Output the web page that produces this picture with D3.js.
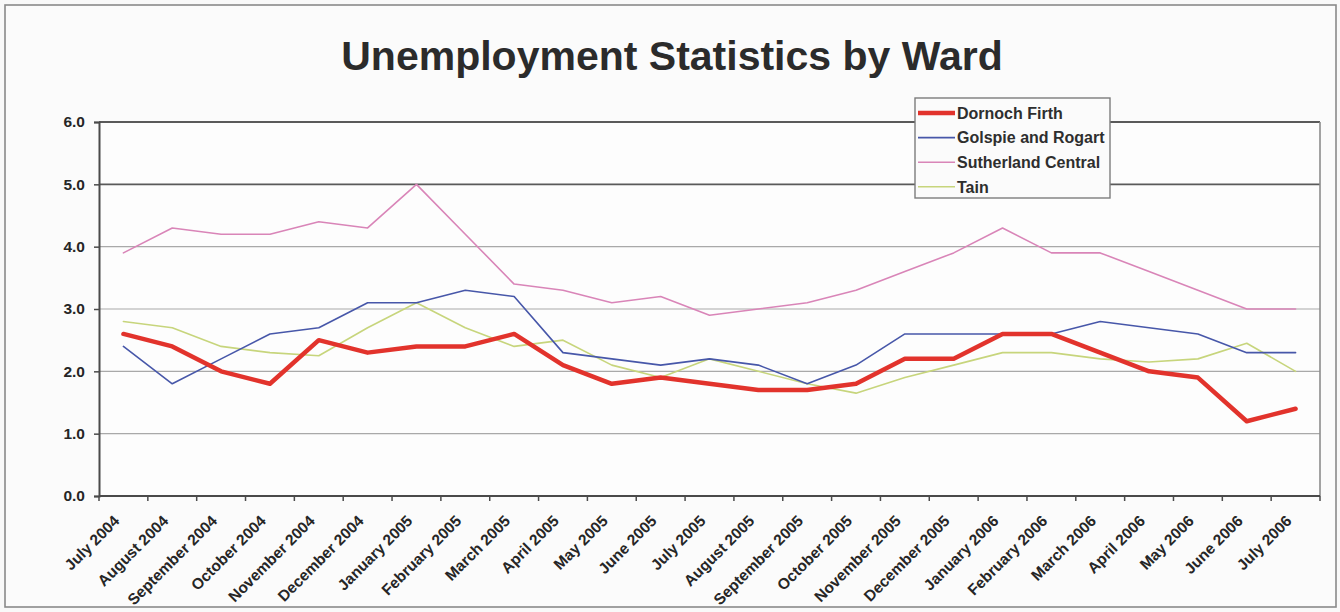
<!DOCTYPE html>
<html>
<head>
<meta charset="utf-8">
<script src="https://cdn.jsdelivr.net/npm/d3@7"></script>
<style>
  html, body { margin: 0; padding: 0; background: #f9f9f9; }
  svg { display: block; }
  text { font-family: "Liberation Sans", Arial, sans-serif; font-weight: bold; fill: #262626; }
</style>
</head>
<body>
<svg id="chart" width="1340" height="612"></svg>
<script>
// Monthly unemployment rate (%) by ward, July 2004 – July 2006
const months = [
  "July 2004", "August 2004", "September 2004", "October 2004", "November 2004",
  "December 2004", "January 2005", "February 2005", "March 2005", "April 2005",
  "May 2005", "June 2005", "July 2005", "August 2005", "September 2005",
  "October 2005", "November 2005", "December 2005", "January 2006", "February 2006",
  "March 2006", "April 2006", "May 2006", "June 2006", "July 2006"
];
const seriesNames = ["Dornoch Firth", "Golspie and Rogart", "Sutherland Central", "Tain"];
const dornochFirth = [2.6, 2.4, 2.0, 1.8, 2.5, 2.3, 2.4, 2.4, 2.6, 2.1, 1.8, 1.9, 1.8, 1.7, 1.7, 1.8, 2.2, 2.2, 2.6, 2.6, 2.3, 2.0, 1.9, 1.2, 1.4];
const golspieRogart = [2.4, 1.8, 2.2, 2.6, 2.7, 3.1, 3.1, 3.3, 3.2, 2.3, 2.2, 2.1, 2.2, 2.1, 1.8, 2.1, 2.6, 2.6, 2.6, 2.6, 2.8, 2.7, 2.6, 2.3, 2.3];
const sutherlandCentral = [3.9, 4.3, 4.2, 4.2, 4.4, 4.3, 5.0, 4.2, 3.4, 3.3, 3.1, 3.2, 2.9, 3.0, 3.1, 3.3, 3.6, 3.9, 4.3, 3.9, 3.9, 3.6, 3.3, 3.0, 3.0];
const tain = [2.8, 2.7, 2.4, 2.3, 2.25, 2.7, 3.1, 2.7, 2.4, 2.5, 2.1, 1.9, 2.2, 2.0, 1.8, 1.65, 1.9, 2.1, 2.3, 2.3, 2.2, 2.15, 2.2, 2.45, 2.0];
const yTicks = [0, 1, 2, 3, 4, 5, 6];

const series = [
  { name: seriesNames[0], values: dornochFirth,      color: "#e2332c", width: 4.5 },
  { name: seriesNames[1], values: golspieRogart,     color: "#4757a9", width: 1.6 },
  { name: seriesNames[2], values: sutherlandCentral, color: "#d985b8", width: 1.6 },
  { name: seriesNames[3], values: tain,              color: "#c7d57c", width: 1.6 }
];

const svg = d3.select("#chart");
const W = 1340, H = 612;
const plot = { left: 99, right: 1320, top: 122, bottom: 496 };

// outer chart frame
svg.append("rect")
  .attr("x", 5).attr("y", 5).attr("width", W - 9).attr("height", H - 10)
  .attr("fill", "#fbfbfb").attr("stroke", "#8a8a8a").attr("stroke-width", 1.6);

// title
svg.append("text")
  .attr("x", 672).attr("y", 70)
  .attr("text-anchor", "middle")
  .style("font-size", "41px")
  .style("fill", "#2b2b2b")
  .text("Unemployment Statistics by Ward");

const x = d3.scaleBand().domain(months).range([plot.left, plot.right]).padding(0);
const y = d3.scaleLinear().domain([0, 6]).range([plot.bottom, plot.top]);

// plot area
svg.append("rect")
  .attr("x", plot.left).attr("y", plot.top)
  .attr("width", plot.right - plot.left).attr("height", plot.bottom - plot.top)
  .attr("fill", "#fdfdfd");

// horizontal gridlines
svg.append("g").selectAll("line")
  .data(yTicks.filter(d => d > 0 && d < 6))
  .join("line")
  .attr("x1", plot.left).attr("x2", plot.right)
  .attr("y1", d => y(d)).attr("y2", d => y(d))
  .attr("stroke", d => d === 5 ? "#5a5a5a" : "#a9a9a9")
  .attr("stroke-width", d => d === 5 ? 1.8 : 1.2);

// plot frame: top and right edges
svg.append("line")
  .attr("x1", plot.left).attr("x2", plot.right)
  .attr("y1", y(6)).attr("y2", y(6))
  .attr("stroke", "#5a5a5a").attr("stroke-width", 1.8);
svg.append("line")
  .attr("x1", plot.right).attr("x2", plot.right)
  .attr("y1", plot.top).attr("y2", plot.bottom)
  .attr("stroke", "#8c8c8c").attr("stroke-width", 1.6);

// y axis
const yAxis = svg.append("g")
  .attr("transform", `translate(${plot.left},0)`)
  .call(d3.axisLeft(y).tickValues(yTicks).tickFormat(d3.format(".1f")).tickSize(5).tickPadding(9));
yAxis.select(".domain").attr("stroke", "#4a4a4a").attr("stroke-width", 2);
yAxis.selectAll(".tick line").attr("stroke", "#4a4a4a").attr("stroke-width", 1.5);
yAxis.selectAll(".tick text")
  .style("font-size", "15.5px")
  .style("font-family", "'Liberation Sans', Arial, sans-serif")
  .style("font-weight", "bold")
  .attr("fill", "#262626");

// x axis: ticks sit between categories
const xAxisG = svg.append("g");
xAxisG.append("line")
  .attr("x1", plot.left).attr("x2", plot.right)
  .attr("y1", plot.bottom).attr("y2", plot.bottom)
  .attr("stroke", "#4a4a4a").attr("stroke-width", 2);
const edges = months.map(m => x(m)).concat([x(months[months.length - 1]) + x.bandwidth()]);
xAxisG.selectAll("line.tick")
  .data(edges)
  .join("line")
  .attr("class", "tick")
  .attr("x1", d => d).attr("x2", d => d)
  .attr("y1", plot.bottom).attr("y2", plot.bottom + 5)
  .attr("stroke", "#4a4a4a").attr("stroke-width", 1.5);
xAxisG.selectAll("text")
  .data(months)
  .join("text")
  .attr("transform", d => `translate(${x(d) + x.bandwidth() / 2 - 3},${plot.bottom + 26}) rotate(-45)`)
  .attr("text-anchor", "end")
  .style("font-size", "15.5px")
  .text(d => d);

// series lines
const line = d3.line()
  .x((d, i) => x(months[i]) + x.bandwidth() / 2)
  .y(d => y(d));

const drawOrder = [series[3], series[2], series[1], series[0]];
svg.append("g").selectAll("path")
  .data(drawOrder)
  .join("path")
  .attr("d", d => line(d.values))
  .attr("fill", "none")
  .attr("stroke", d => d.color)
  .attr("stroke-width", d => d.width)
  .attr("stroke-linejoin", "round")
  .attr("stroke-linecap", "round");

// legend
const legend = svg.append("g");
legend.append("rect")
  .attr("x", 915).attr("y", 98).attr("width", 195).attr("height", 100)
  .attr("fill", "#fbfbfb").attr("stroke", "#7c7c7c").attr("stroke-width", 1.4);
const items = legend.selectAll("g.item")
  .data(series)
  .join("g")
  .attr("class", "item")
  .attr("transform", (d, i) => `translate(0,${113 + i * 24.6})`);
items.append("line")
  .attr("x1", 918).attr("x2", 955)
  .attr("y1", 0).attr("y2", 0)
  .attr("stroke", d => d.color)
  .attr("stroke-width", d => d.width);
items.append("text")
  .attr("x", 957).attr("y", 0).attr("dy", "0.36em")
  .style("font-size", "16px")
  .style("fill", "#2e2e2e")
  .text(d => d.name);
</script>
</body>
</html>
